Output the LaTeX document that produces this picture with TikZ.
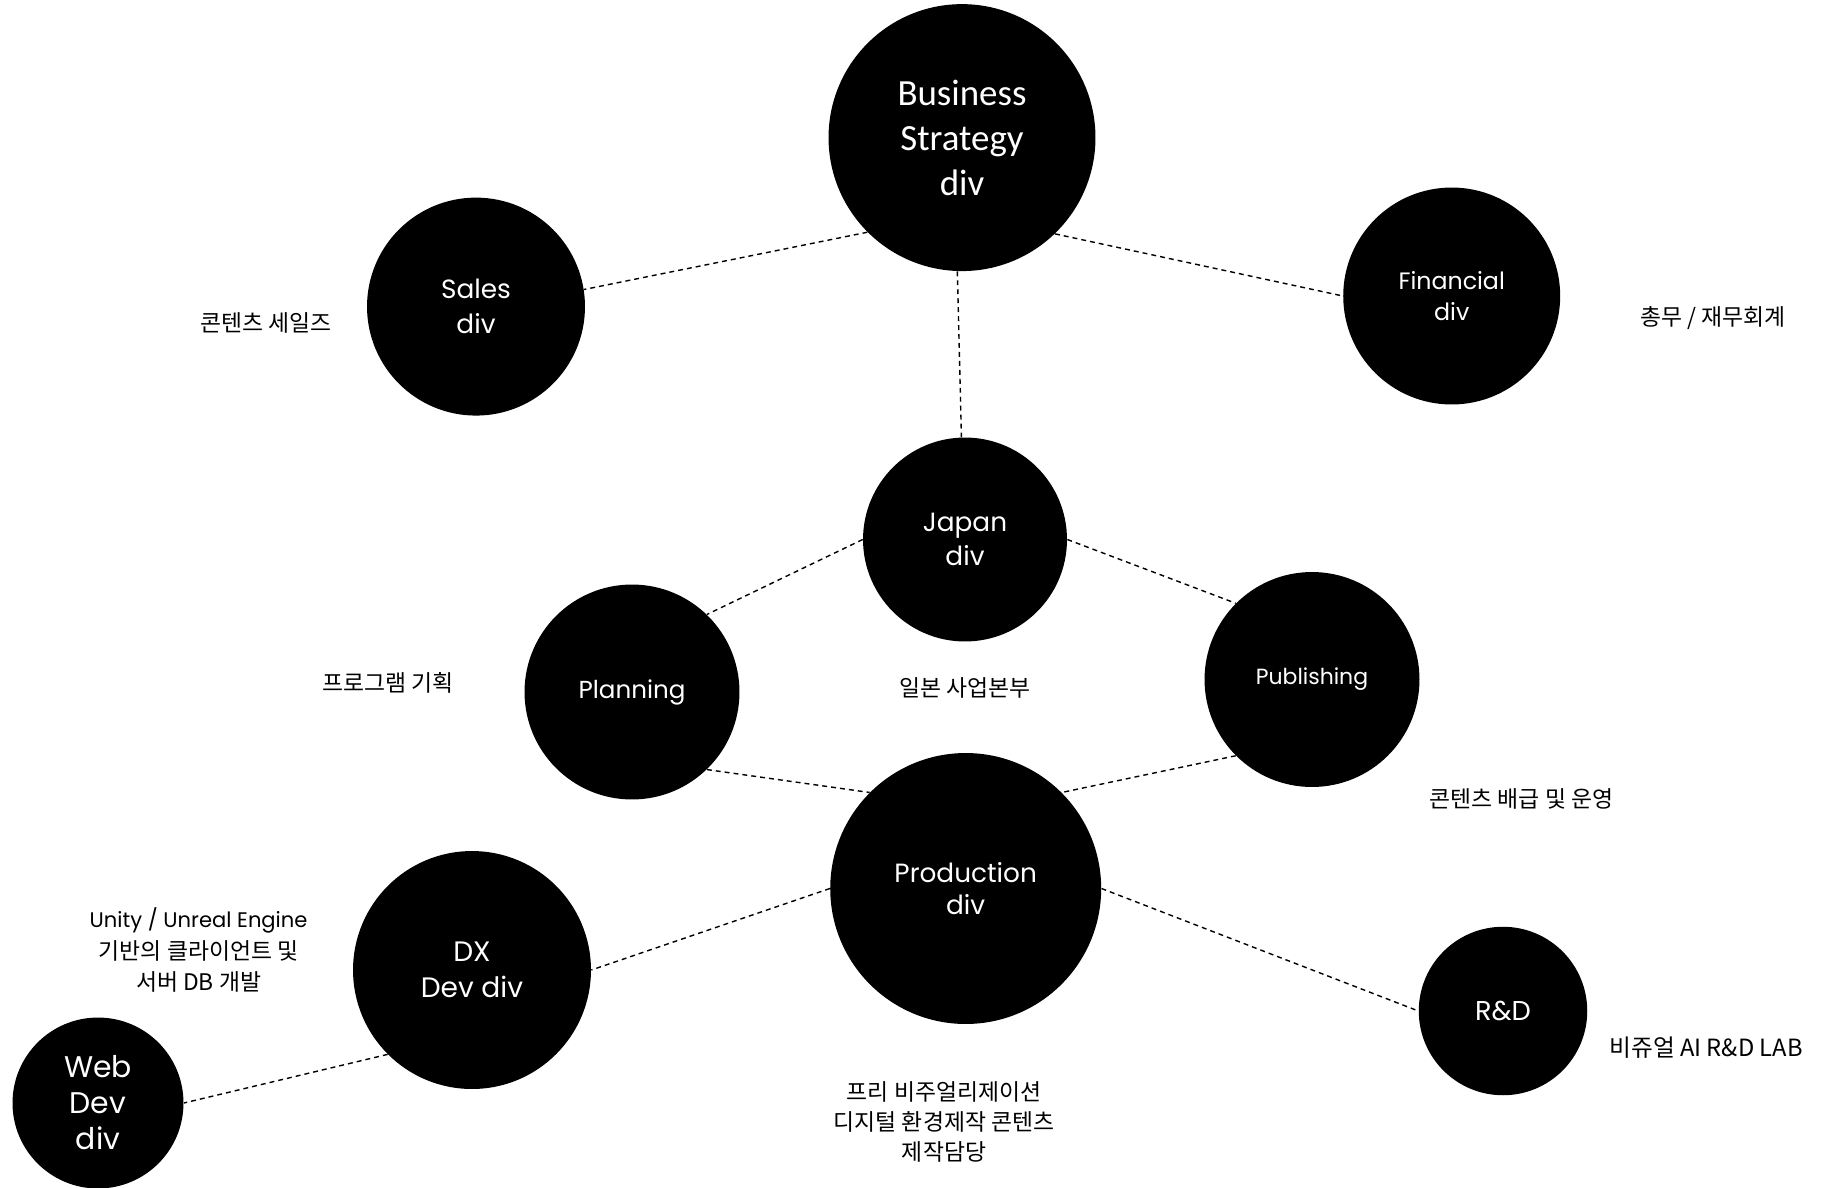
\documentclass[tikz,border=0pt]{standalone}
\usepackage{fontspec}
\setmainfont{Poppins}
\newfontfamily\krfont{Noto Sans CJK KR}
\newfontfamily\cbfont{Carlito}
\usepackage{tikz}

\tikzset{
  div/.style={circle,fill=black,text=white,inner sep=0pt,align=center},
  note/.style={align=center,font=\krfont\fontsize{13}{17}\selectfont},
  link/.style={dash pattern=on 2.8pt off 2.3pt,line width=0.8pt}
}

\begin{document}
\begin{tikzpicture}[x=0.02cm,y=-0.02cm]
	\useasboundingbox (0,0) rectangle (1821,1187);
	% Define the divisions
	\node[div,minimum size=5.34cm,font=\cbfont\fontsize{21}{25.6}\selectfont] (bs) at (962,137.6) {Business\\Strategy\\div};
	\node[div,minimum size=4.36cm,font=\fontsize{15}{20}\selectfont] (sales) at (476,306.6) {Sales\\div};
	\node[div,minimum size=4.34cm,font=\fontsize{13.5}{17.8}\selectfont] (fin) at (1451.7,296) {Financial\\div};
	\node[div,minimum size=4.08cm,font=\fontsize{15}{19}\selectfont] (jp) at (965,539.5) {Japan\\div};
	\node[div,minimum size=4.3cm,font=\fontsize{14}{18}\selectfont] (plan) at (632,692) {Planning};
	\node[div,minimum size=4.3cm,font=\fontsize{12.5}{16}\selectfont] (pub) at (1312,679.5) {Publishing};
	\node[div,minimum size=5.42cm,font=\fontsize{15}{18.5}\selectfont] (prod) at (965.7,888.5) {Production\\div};
	\node[div,minimum size=4.76cm,font=\fontsize{16}{20.5}\selectfont] (dx) at (472,970) {DX\\Dev div};
	\node[div,minimum size=3.42cm,font=\fontsize{17}{20.5}\selectfont] (web) at (98,1103) {Web\\Dev\\div};
	\node[div,minimum size=3.37cm,font=\fontsize{15.5}{19}\selectfont] (rd) at (1503,1011) {R\&D};
	% Add notes next to the divisions
	\node[note] (salesnote) at (266,323) {콘텐츠 세일즈};
	\node[note] (finnote) at (1713,318) {총무 / 재무회계};
	\node[note] (plannote) at (388,683) {프로그램 기획};
	\node[note] (jpnote) at (965,687.5) {일본 사업본부};
	\node[note] (pubnote) at (1521.5,799) {콘텐츠 배급 및 운영};
	\node[note,font=\krfont\fontsize{13}{18}\selectfont] (dxnote) at (198.6,950) {{\rmfamily\fontsize{12}{18}\selectfont Unity / Unreal Engine}\\기반의 클라이언트 및\\서버 DB 개발};
	\node[note,font=\krfont\fontsize{13.5}{17}\selectfont] (rdnote) at (1706,1047.6) {비쥬얼 AI R\&D LAB};
	\node[note] (prodnote) at (944,1122) {프리 비주얼리제이션\\디지털 환경제작 콘텐츠\\제작담당};
	% Connect the divisions
	\foreach \a/\b in {bs.225/sales.9,bs.314/fin.180,bs.268/jp.92,jp.180/plan.46,jp.0/pub.135,
		plan.314/prod.135,pub.225/prod.45,prod.180/dx.0,prod.0/rd.180,dx.225/web.0}
		\draw[link] (\a) -- (\b);
\end{tikzpicture}
\end{document}
